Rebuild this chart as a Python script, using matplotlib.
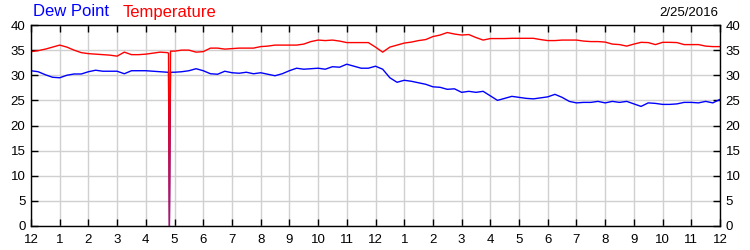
import numpy as np
import matplotlib
matplotlib.use("Agg")
import matplotlib.pyplot as plt

plt.rcParams['font.family'] = ['Liberation Sans', 'DejaVu Sans']

# readings every 15 minutes, midnight to midnight
hours = np.arange(0, 24.01, 0.25)

temperature = [
    34.7, 34.9, 35.2, 35.6, 36.0, 35.6, 35.0, 34.5,   # 0 - 1.75
    34.3, 34.2, 34.1, 34.0, 33.8, 34.6, 34.1, 34.1,   # 2 - 3.75
    34.2, 34.4, 34.6, 34.5, 34.8, 35.0, 35.0, 34.6,   # 4 - 5.75
    34.7, 35.4, 35.4, 35.2, 35.3, 35.4, 35.4, 35.4,   # 6 - 7.75
    35.7, 35.8, 36.0, 36.0, 36.0, 36.0, 36.2, 36.7,   # 8 - 9.75
    37.0, 36.9, 37.0, 36.8, 36.5, 36.5, 36.5, 36.5,   # 10 - 11.75
    35.6, 34.6, 35.6, 36.0, 36.4, 36.6, 36.9, 37.1,   # 12 - 13.75
    37.7, 38.0, 38.5, 38.2, 38.0, 38.1, 37.5, 37.0,   # 14 - 15.75
    37.3, 37.3, 37.3, 37.35, 37.35, 37.35, 37.35, 37.1,  # 16 - 17.75
    36.9, 36.9, 37.0, 37.0, 37.0, 36.8, 36.7, 36.7,   # 18 - 19.75
    36.6, 36.2, 36.1, 35.8, 36.2, 36.55, 36.5, 36.1,  # 20 - 21.75
    36.55, 36.55, 36.5, 36.1, 36.1, 36.1, 35.8, 35.7, # 22 - 23.75
    35.7,
]

dew_point = [
    30.9, 30.7, 30.1, 29.6, 29.5, 30.0, 30.25, 30.25,
    30.7, 31.0, 30.8, 30.8, 30.8, 30.3, 30.9, 30.9,
    30.9, 30.8, 30.7, 30.6, 30.6, 30.7, 30.9, 31.3,
    30.9, 30.3, 30.2, 30.8, 30.5, 30.4, 30.6, 30.3,
    30.5, 30.2, 29.9, 30.3, 30.9, 31.4, 31.2, 31.3,
    31.4, 31.2, 31.7, 31.6, 32.2, 31.8, 31.4, 31.4,
    31.8, 31.2, 29.5, 28.6, 29.0, 28.8, 28.5, 28.2,
    27.7, 27.6, 27.2, 27.3, 26.6, 26.8, 26.6, 26.8,
    25.9, 25.0, 25.4, 25.8, 25.6, 25.4, 25.3, 25.5,
    25.7, 26.2, 25.6, 24.8, 24.5, 24.6, 24.6, 24.8,
    24.5, 24.8, 24.6, 24.8, 24.3, 23.8, 24.5, 24.4,
    24.2, 24.2, 24.3, 24.6, 24.6, 24.5, 24.8, 24.5,
    25.2,
]

# bad sensor reading just before 5 am (both series drop to 0), with the
# readings right around it
glitch_hours = [4.79, 4.82, 4.86]
glitch_temp = [34.4, 0.0, 34.8]
glitch_dew = [30.6, 0.0, 30.6]

tick_labels = ['12'] + [str(i) for i in range(1, 12)] + ['12'] + [str(i) for i in range(1, 12)] + ['12']
date_label = "2/25/2016"

# merge the glitch readings into the series
idx = np.searchsorted(hours, glitch_hours[0])
t = np.insert(hours, idx, glitch_hours)
temp = np.insert(np.array(temperature), idx, glitch_temp)
dew = np.insert(np.array(dew_point), idx, glitch_dew)

fig = plt.figure(figsize=(7.5, 2.5), dpi=100)
ax = fig.add_axes([31/750, 1 - 226/250, 689/750, 201/250])

ax.plot(t, dew, color='#0000ff', lw=1.0)
ax.plot(t, temp, color='#ff0000', lw=1.0)

ax.set_xlim(0, 24)
ax.set_ylim(0, 40)
ax.set_xticks(range(25))
ax.set_xticklabels(tick_labels)
ax.set_yticks(range(0, 41, 5))
ax.grid(True, color='#d0d0d0', lw=1.0)
ax.set_axisbelow(True)

ax.tick_params(axis='both', direction='in', length=5, width=1, labelsize=9.5,
               top=True, right=True, labelright=True, colors='black', pad=4)
ax.tick_params(axis='x', pad=6)
for s in ax.spines.values():
    s.set_color('black')
    s.set_linewidth(1)

fig.text(33/750, 1 - 12/250, "Dew Point", color='#0000ff', fontsize=12, va='center', ha='left')
fig.text(123/750, 1 - 12/250, "Temperature", color='#ff0000', fontsize=12, va='center', ha='left')
fig.text(718/750, 1 - 13/250, date_label, color='black', fontsize=9.5, va='center', ha='right')

fig.savefig("out.png", dpi=100)
